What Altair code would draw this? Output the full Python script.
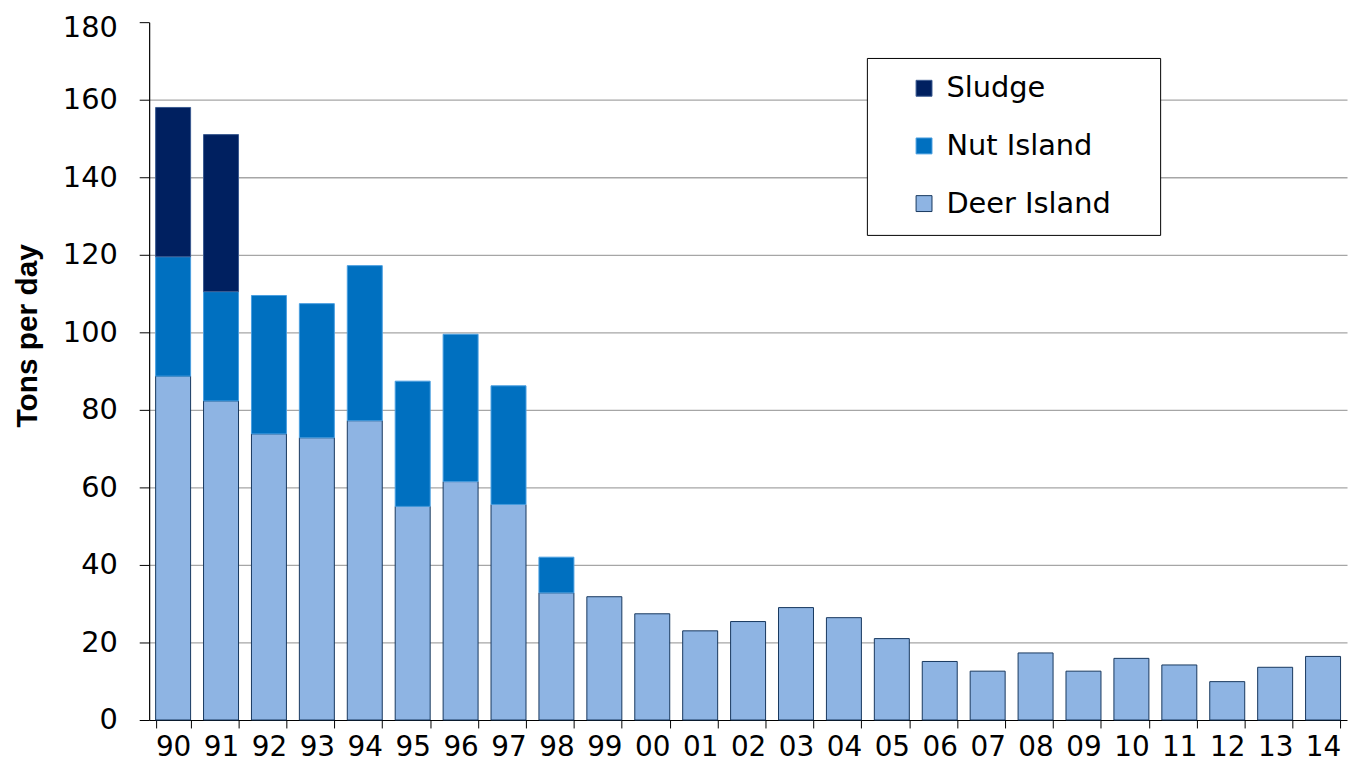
import altair as alt
import pandas as pd

years = ["90", "91", "92", "93", "94", "95", "96", "97", "98", "99", "00", "01", "02",
         "03", "04", "05", "06", "07", "08", "09", "10", "11", "12", "13", "14"]
deer_island = [88.7, 82.3, 73.8, 72.8, 77.2, 55.1, 61.5, 55.6, 32.8, 31.8, 27.4, 23.0, 25.4,
               29.0, 26.4, 21.0, 15.1, 12.6, 17.3, 12.6, 15.9, 14.2, 9.9, 13.6, 16.4]
nut_island = [30.8, 28.2, 35.7, 34.6, 40.0, 32.3, 38.0, 30.6, 9.2, 0, 0, 0, 0,
              0, 0, 0, 0, 0, 0, 0, 0, 0, 0, 0, 0]
sludge = [38.5, 40.5, 0, 0, 0, 0, 0, 0, 0, 0, 0, 0, 0,
          0, 0, 0, 0, 0, 0, 0, 0, 0, 0, 0, 0]

series_names = ["Sludge", "Nut Island", "Deer Island"]
series_colors = ["#002060", "#0070C0", "#8EB4E3"]
series_strokes = ["#3a5a90", "#4a9ee0", "#17375E"]
stack_rank = {"Deer Island": 0, "Nut Island": 1, "Sludge": 2}

rows = []
for name, vals in (("Deer Island", deer_island), ("Nut Island", nut_island), ("Sludge", sludge)):
    for y, v in zip(years, vals):
        if v > 0:
            rows.append({"year": y, "series": name, "value": v, "rank": stack_rank[name]})
df = pd.DataFrame(rows)

LABEL_FONT = "DejaVu Sans"

chart = alt.Chart(df).mark_bar(strokeWidth=1).encode(
    x=alt.X("year:N", sort=years, title=None,
            scale=alt.Scale(paddingInner=0.27, paddingOuter=0.135),
            axis=alt.Axis(labelAngle=0, labelFontSize=28, labelColor="black",
                          labelFont=LABEL_FONT, labelPadding=6,
                          tickBand="extent", tickSize=8, tickColor="black",
                          domainColor="black", domainWidth=1.2, grid=False)),
    y=alt.Y("value:Q", stack="zero", title="Tons per day",
            scale=alt.Scale(domain=[0, 180], nice=False),
            axis=alt.Axis(values=list(range(0, 181, 20)), labelFontSize=29,
                          labelColor="black", labelFont=LABEL_FONT,
                          labelPadding=22, tickSize=10, tickColor="black",
                          labelOffset={"condition": {"test": "datum.value == 180", "value": 5}, "value": 0},
                          domainColor="black", domainWidth=1.2,
                          gridColor="#a6a6a6", gridWidth=1.3,
                          gridOpacity={"condition": {"test": "datum.value == 180 || datum.value == 0", "value": 0}, "value": 1},
                          titleFont="Liberation Sans", titleFontSize=30,
                          titleFontWeight="bold", titleColor="black",
                          titleAngle=-90, titleX=-107, titleY=315,
                          titleAlign="center", titleBaseline="bottom")),
    color=alt.Color("series:N",
                    scale=alt.Scale(domain=series_names, range=series_colors),
                    legend=alt.Legend(title="\u00a0", titleOrient="right", titlePadding=34,
                                      titleFontSize=10,
                                      orient="none", legendX=722, legendY=36,
                                      direction="vertical",
                                      strokeColor="black", fillColor="white",
                                      padding=16, symbolType="square", symbolSize=256,
                                      symbolOffset=27, labelOffset=8, labelLimit=400,
                                      labelFontSize=29, labelFont=LABEL_FONT,
                                      labelColor="black", rowPadding=28,
                                      symbolStrokeWidth=1)),
    stroke=alt.Stroke("series:N",
                      scale=alt.Scale(domain=series_names, range=series_strokes),
                      legend=None),
    order=alt.Order("rank:Q", sort="ascending"),
).properties(
    width=1205, height=702,
    autosize=alt.AutoSizeParams(type="none"),
    padding={"left": 142, "top": 12, "right": 3, "bottom": 43},
    background="white",
).configure_view(stroke=None)

chart.save("out.html", embed_options={"renderer": "svg", "actions": False})
